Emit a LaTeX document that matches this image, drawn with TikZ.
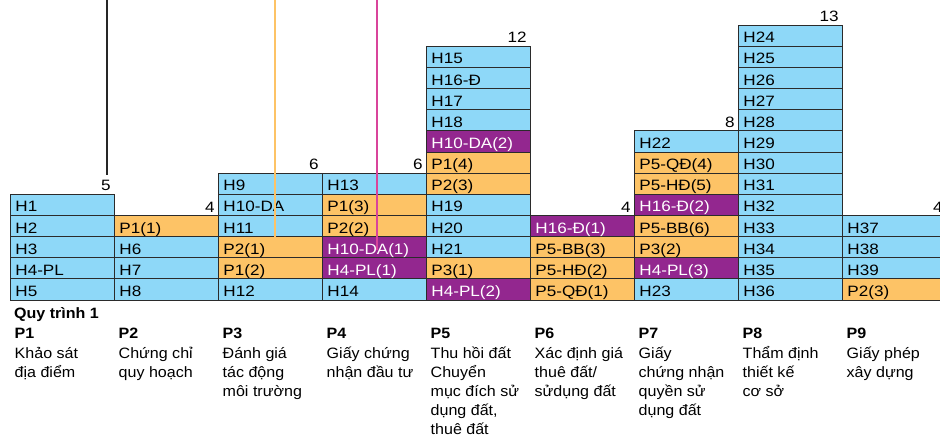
\documentclass[tikz,border=0pt]{standalone}
\usepackage{fontspec}
\setmainfont{Liberation Sans}[FakeStretch=1.07]
\newfontfamily\cellfont{Liberation Sans}[FakeStretch=1.14]
\usetikzlibrary{calc}
\definecolor{cblue}{HTML}{8ED8F8}
\definecolor{corange}{HTML}{FDC366}
\definecolor{cpurple}{HTML}{93278F}
\definecolor{cpink}{HTML}{D9449B}
\definecolor{cborder}{HTML}{2B2B2B}
\begin{document}
\begin{tikzpicture}[x=1pt,y=-1pt,
  cell/.style={draw=cborder, line width=0.9pt, rectangle, anchor=south west,
    minimum height=21.15pt, text width=93pt, inner xsep=5.5pt, inner ysep=0pt,
    align=left, text height=14.15pt, text depth=0pt,
    font=\cellfont\fontsize{15}{18}\selectfont},
  cb/.style={cell, fill=cblue, text=black},
  co/.style={cell, fill=corange, text=black},
  cp/.style={cell, fill=cpurple, text=white},
  cnt/.style={anchor=base east, inner sep=0pt, font=\cellfont\fontsize{15}{18}\selectfont},
  ptitle/.style={anchor=base west, inner sep=0pt, font=\bfseries\fontsize{15}{18}\selectfont},
  desc/.style={anchor=base west, inner sep=0pt, font=\fontsize{15}{18}\selectfont},
  vline/.style={line width=2pt}
]
\clip (0,0) rectangle (940,437);
\fill[white] (0,0) rectangle (940,437);

\foreach \k/\n/\items in {
  1/5/{cb/H5,cb/H4-PL,cb/H3,cb/H2,cb/H1},
  2/4/{cb/H8,cb/H7,cb/H6,co/P1(1)},
  3/6/{cb/H12,co/P1(2),co/P2(1),cb/H11,cb/H10-DA,cb/H9},
  4/6/{cb/H14,cp/H4-PL(1),cp/H10-DA(1),co/P2(2),co/P1(3),cb/H13},
  5/12/{cp/H4-PL(2),co/P3(1),cb/H21,cb/H20,cb/H19,co/P2(3),co/P1(4),cp/H10-DA(2),cb/H18,cb/H17,cb/H16-Đ,cb/H15},
  6/4/{co/P5-QĐ(1),co/P5-HĐ(2),co/P5-BB(3),cp/H16-Đ(1)},
  7/8/{cb/H23,cp/H4-PL(3),co/P3(2),co/P5-BB(6),cp/H16-Đ(2),co/P5-HĐ(5),co/P5-QĐ(4),cb/H22},
  8/13/{cb/H36,cb/H35,cb/H34,cb/H33,cb/H32,cb/H31,cb/H30,cb/H29,cb/H28,cb/H27,cb/H26,cb/H25,cb/H24},
  9/4/{co/P2(3),cb/H39,cb/H38,cb/H37}}{
  \foreach \s/\t [count=\r] in \items {
    \node[\s] (c\k-\r) at ({9.5+104*(\k-1)}, {300.5-21.15*(\r-1)}) {\t};
  }
  \node[cnt] (n\k) at ($(c\k-\n.north east)+(-3.5,-3)$) {\n};
}

% vertical marker lines
\coordinate (bkA) at (107,0);
\coordinate (bkB) at (107,175);
\coordinate (orA) at (275,0);
\coordinate (orB) at (275,237.5);
\coordinate (pkA) at (377,0);
\coordinate (pkB) at (377,250);
\draw[vline, line width=2.2pt, black!85] (bkA) -- (bkB);
\draw[vline, corange] (orA) -- (orB);
\draw[vline, cpink] (pkA) -- (pkB);

% bottom legend
\node[ptitle] (qt) at (14,318) {Quy trình 1};
\foreach \k/\lines in {
  1/{Khảo sát,địa điểm},
  2/{Chứng chỉ,quy hoạch},
  3/{Đánh giá,tác động,môi trường},
  4/{Giấy chứng,nhận đầu tư},
  5/{Thu hồi đất,Chuyển,mục đích sử,{dụng đất,},thuê đất},
  6/{Xác định giá,thuê đất/,sửdụng đất},
  7/{Giấy,chứng nhận,quyền sử,dụng đất},
  8/{Thẩm định,thiết kế,cơ sở},
  9/{Giấy phép,xây dựng}}{
  \node[ptitle] (p\k) at ({14.5+104*(\k-1)}, 338) {P\k};
  \foreach \t [count=\i from 0] in \lines {
    \node[desc] (d\k-\i) at ({14.5+104*(\k-1)}, {358.5+19*\i}) {\t};
  }
}
\end{tikzpicture}
\end{document}
